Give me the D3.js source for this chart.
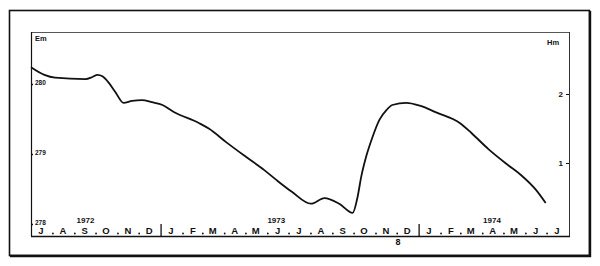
<!DOCTYPE html>
<html>
<head>
<meta charset="utf-8">
<script src="https://cdn.jsdelivr.net/npm/d3@7"></script>
<style>
  body { margin: 0; background: #fff; }
  text { font-family: "Liberation Sans", Arial, sans-serif; font-weight: bold; fill: #111; }
</style>
</head>
<body>
<svg id="chart" width="600" height="266"></svg>
<script>
// level readings (Em) through time
var dates = ["1972-07-01", "1972-07-20", "1972-08-04", "1972-09-16", "1972-09-26", "1972-10-03",
  "1972-10-10", "1972-10-18", "1972-10-28", "1972-11-09", "1972-11-21", "1972-12-05", "1972-12-19",
  "1973-01-03", "1973-01-19", "1973-02-24", "1973-03-10", "1973-04-03", "1973-05-01", "1973-05-27",
  "1973-06-13", "1973-07-05", "1973-08-01", "1973-08-20", "1973-09-10", "1973-09-29", "1973-10-06",
  "1973-10-11", "1973-10-18", "1973-10-27", "1973-11-06", "1973-11-16", "1973-11-24", "1973-12-14",
  "1974-01-02", "1974-01-26", "1974-02-28", "1974-03-16", "1974-04-09", "1974-05-07", "1974-05-25",
  "1974-06-15", "1974-06-29"];
var levels = [280.24, 280.13, 280.09, 280.07, 280.10, 280.13,
  280.11, 280.03, 279.89, 279.73, 279.76, 279.77, 279.74,
  279.70, 279.60, 279.44, 279.36, 279.17, 278.96, 278.77,
  278.63, 278.46, 278.29, 278.37, 278.29, 278.16, 278.39,
  278.67, 278.96, 279.24, 279.49, 279.63, 279.70, 279.73,
  279.69, 279.59, 279.44, 279.30, 279.07, 278.84, 278.70,
  278.49, 278.30];

var leftTicks = [278, 279, 280];
var rightTicks = [1, 2];
var monthLetters = ["J", "F", "M", "A", "M", "J", "J", "A", "S", "O", "N", "D"];
var yearLabels = ["1972", "1973", "1974"];
var yearDates = ["1972-09-16", "1973-06-13", "1974-04-14"];

var parse = d3.timeParse("%Y-%m-%d");
var data = dates.map(function(d, i) { return { date: parse(d), v: levels[i] }; });

var svg = d3.select("#chart"),
    plotL = 31, plotR = 569, plotT = 32, plotB = 236;

var x = d3.scaleTime()
    .domain([new Date(1972, 6, 1), new Date(1974, 7, 1)])
    .range([plotL, plotR]);
var y = d3.scaleLinear().domain([278, 280]).range([224, 84]);
var y2 = d3.scaleLinear().domain([0, 2]).range([232, 94]);

// outer frame
svg.append("rect")
    .attr("x", 9.5).attr("y", 10.5)
    .attr("width", 580).attr("height", 245)
    .attr("fill", "none").attr("stroke", "#111").attr("stroke-width", 1.6);
svg.append("path")
    .attr("d", "M590,11V256H10")
    .attr("fill", "none").attr("stroke", "#111").attr("stroke-width", 2.4);

// plot box
svg.append("line").attr("x1", plotL).attr("x2", plotR).attr("y1", plotT + 0.5).attr("y2", plotT + 0.5)
    .attr("stroke", "#444").attr("stroke-width", 0.9);
svg.append("line").attr("x1", plotL + 0.5).attr("x2", plotL + 0.5).attr("y1", plotT).attr("y2", plotB)
    .attr("stroke", "#111").attr("stroke-width", 1.2);
svg.append("line").attr("x1", plotR + 0.5).attr("x2", plotR + 0.5).attr("y1", plotT).attr("y2", plotB)
    .attr("stroke", "#333").attr("stroke-width", 1);
svg.append("line").attr("x1", plotL).attr("x2", plotR + 1).attr("y1", plotB + 0.5).attr("y2", plotB + 0.5)
    .attr("stroke", "#111").attr("stroke-width", 1.6);

// left axis (Em)
var yAxis = svg.append("g")
    .attr("transform", "translate(" + plotL + ",0)")
    .call(d3.axisRight(y).tickValues(leftTicks).tickSize(2).tickPadding(2).tickFormat(d3.format("d")));
yAxis.select(".domain").remove();
yAxis.selectAll("line").attr("stroke", "#111").attr("stroke-width", 1.5);
yAxis.selectAll("text").attr("font-size", 6.5).attr("dy", "0.1em");
svg.append("text").attr("x", 35).attr("y", 40.5).attr("font-size", 7.5).text("Em");

// right axis (Hm)
var y2Axis = svg.append("g")
    .attr("transform", "translate(" + plotR + ",0)")
    .call(d3.axisLeft(y2).tickValues(rightTicks).tickSize(3).tickPadding(3).tickFormat(d3.format("d")));
y2Axis.select(".domain").remove();
y2Axis.selectAll("line").attr("stroke", "#111").attr("stroke-width", 1);
y2Axis.selectAll("text").attr("font-size", 8);
svg.append("text").attr("x", 547).attr("y", 45).attr("font-size", 7.5).text("Hm");

// month letters at mid-month, dots at month starts
var months = d3.timeMonth.range(new Date(1972, 6, 1), new Date(1974, 7, 1));
svg.append("g").selectAll("text")
    .data(months)
  .enter().append("text")
    .attr("x", function(d) { return x(d3.timeDay.offset(d, 14)); })
    .attr("y", 234)
    .attr("text-anchor", "middle")
    .attr("font-size", 9.5)
    .text(function(d) { return monthLetters[d.getMonth()]; });

svg.append("g").selectAll("circle")
    .data(months.slice(1).filter(function(d) { return d.getMonth() !== 0; }))
  .enter().append("circle")
    .attr("cx", function(d) { return x(d); })
    .attr("cy", 233.5)
    .attr("r", 0.9)
    .attr("fill", "#111");

// year dividers
svg.append("g").selectAll("line")
    .data([new Date(1973, 0, 1), new Date(1974, 0, 1)])
  .enter().append("line")
    .attr("x1", function(d) { return x(d); })
    .attr("x2", function(d) { return x(d); })
    .attr("y1", 224).attr("y2", plotB)
    .attr("stroke", "#111").attr("stroke-width", 1.3);

svg.append("g").selectAll("text")
    .data(yearLabels)
  .enter().append("text")
    .attr("x", function(d, i) { return x(parse(yearDates[i])); })
    .attr("y", 223)
    .attr("text-anchor", "middle")
    .attr("font-size", 8)
    .text(function(d) { return d; });

// mark below the axis
svg.append("text").attr("x", x(parse("1973-12-02"))).attr("y", 245)
    .attr("text-anchor", "middle").attr("font-size", 9).text("8");

// level curve
svg.append("path")
    .datum(data)
    .attr("fill", "none")
    .attr("stroke", "#111")
    .attr("stroke-width", 1.8)
    .attr("stroke-linejoin", "round")
    .attr("d", d3.line()
        .x(function(d) { return x(d.date); })
        .y(function(d) { return y(d.v); })
        .curve(d3.curveMonotoneX));
</script>
</body>
</html>
